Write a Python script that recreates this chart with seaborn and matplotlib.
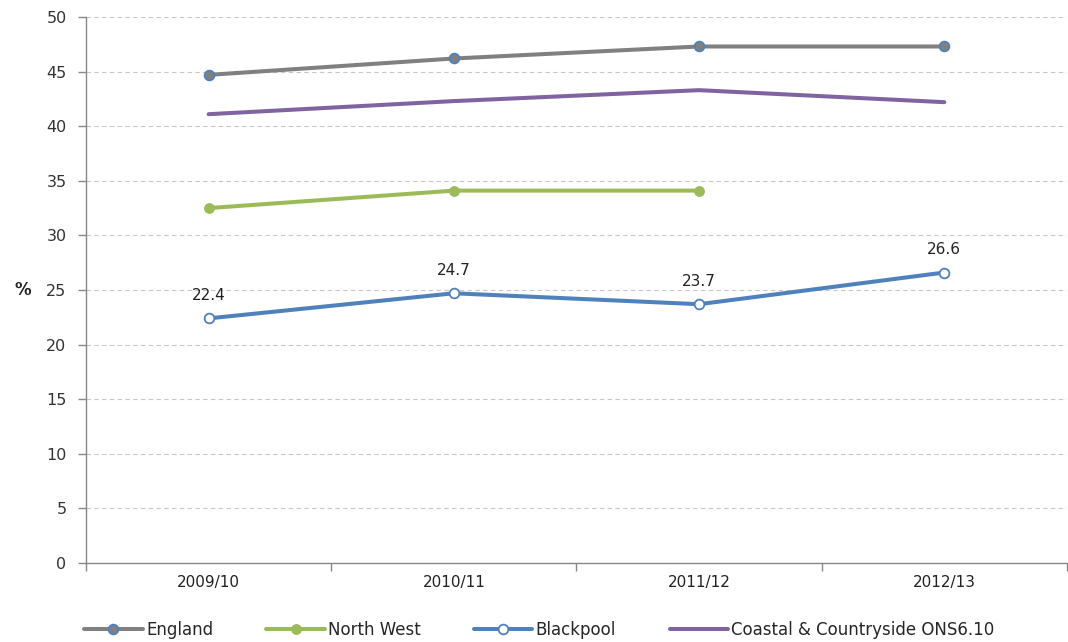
import numpy as np
import pandas as pd
import matplotlib
matplotlib.use("Agg")
import matplotlib.pyplot as plt
import seaborn as sns

years = ["2009/10", "2010/11", "2011/12", "2012/13"]
england = [44.7, 46.2, 47.3, 47.3]
north_west = [32.5, 34.1, 34.1, np.nan]
blackpool = [22.4, 24.7, 23.7, 26.6]
coastal = [41.1, 42.3, 43.3, 42.2]

sns.set_style("white")
plt.rcParams['font.family'] = ['DejaVu Sans']

fig = plt.figure(figsize=(10.68, 6.42), dpi=100)
ax = fig.add_axes([86/1068, 79/642, 1 - 86/1068 - 0.001, (563-17)/642])

x = np.arange(len(years))
lw = 2.9
sns.lineplot(x=x, y=england, ax=ax, color="#808080", lw=lw, marker="o", markersize=7,
             markerfacecolor="#808080", markeredgecolor="#4F81BD", markeredgewidth=1.3,
             label="England", zorder=4)
sns.lineplot(x=x, y=north_west, ax=ax, color="#9BBB59", lw=lw, marker="o", markersize=7,
             markerfacecolor="#9BBB59", markeredgecolor="#9BBB59",
             label="North West", zorder=4)
sns.lineplot(x=x, y=blackpool, ax=ax, color="#4F81BD", lw=lw, marker="o", markersize=7,
             markerfacecolor="white", markeredgecolor="#4F81BD", markeredgewidth=1.3,
             label="Blackpool", zorder=4)
sns.lineplot(x=x, y=coastal, ax=ax, color="#8064A2", lw=lw,
             label="Coastal & Countryside ONS6.10", zorder=4)

for xi, v in zip(x, blackpool):
    ax.annotate(f"{v:.1f}", (xi, v), xytext=(0, 11), textcoords="offset points",
                ha="center", va="bottom", fontsize=11, color="#222222")

ax.set_xlim(-0.5, 3.5)
ax.set_ylim(0, 50)
ax.set_yticks(np.arange(0, 51, 5))
ax.set_xticks(x)
ax.set_xticklabels(years)
ax.set_xticks(np.arange(-0.5, 4.0, 1.0), minor=True)
ax.tick_params(axis="x", which="major", bottom=False, length=0, pad=9, labelsize=11,
               labelcolor="#222222")
ax.tick_params(axis="x", which="minor", bottom=True, length=6, width=1, color="#888888",
               direction="out")
ax.tick_params(axis="y", which="major", left=True, length=6, width=1, color="#888888",
               direction="out", labelsize=11.5, labelcolor="#333333", pad=8)
ax.yaxis.grid(True, linestyle=(0, (4, 3)), color="#c8c8c8", lw=0.8)
ax.xaxis.grid(False)
for s in ["top", "right"]:
    ax.spines[s].set_visible(False)
for s in ["left", "bottom"]:
    ax.spines[s].set_color("#888888")
    ax.spines[s].set_linewidth(1)

ax.set_ylabel("%", rotation=0, fontsize=12, fontweight="bold", color="#222222",
              va="center", ha="center")
ax.yaxis.set_label_coords(-0.064, 0.5)

handles, labels = ax.get_legend_handles_labels()
ax.get_legend().remove()
fig.legend(handles, labels, loc="lower center", ncol=4, bbox_to_anchor=(0.505, -0.018),
           frameon=False, fontsize=12, handlelength=3.5, columnspacing=3.2, handletextpad=0.2)

fig.savefig("out.png", dpi=100)
